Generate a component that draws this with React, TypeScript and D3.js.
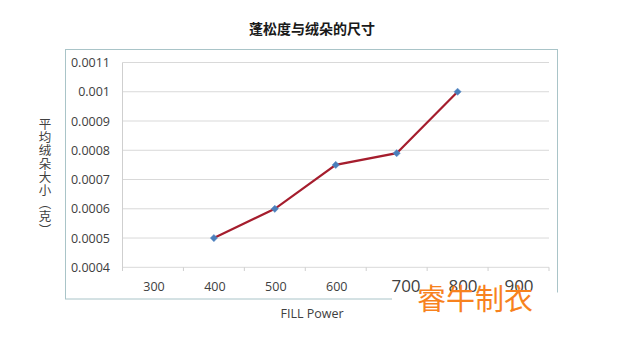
import React from "react";
import * as d3 from "d3";

const categories = ["300", "400", "500", "600", "700", "800", "900"];
const seriesX = ["400", "500", "600", "700", "800"];
const seriesValues = [0.0005, 0.0006, 0.00075, 0.00079, 0.001];
const yTicks = [0.0004, 0.0005, 0.0006, 0.0007, 0.0008, 0.0009, 0.001, 0.0011];
const yTickLabels = ["0.0004", "0.0005", "0.0006", "0.0007", "0.0008", "0.0009", "0.001", "0.0011"];
const title = "蓬松度与绒朵的尺寸";
const yTitle = "平均绒朵大小（克）";
const xTitle = "FILL Power";
const watermark = "睿牛制衣";

const W = 637;
const H = 337;
const NUM_FONT = "'Open Sans', 'Noto Sans', sans-serif";
const CJK_FONT = "'Noto Sans CJK SC', sans-serif";

export default function App() {
  const x = d3.scaleBand<string>().domain(categories).range([122.5, 549]).padding(0);
  const y = d3.scaleLinear().domain([0.0004, 0.0011]).range([267.3, 62.5]);
  const line = d3
    .line<number>()
    .x((_, i) => (x(seriesX[i]) as number) + x.bandwidth() / 2)
    .y((d) => y(d));
  const marker = d3.symbol().type(d3.symbolSquare).size(26)();
  const boundaries = categories.map((c) => x(c) as number).concat([x.range()[1]]);

  return (
    <svg width={W} height={H} style={{ position: "absolute", left: 0, top: 0, background: "#fff" }}>
      <rect x={0} y={0} width={W} height={H} fill="#fff" />
      <rect x={65.5} y={49.5} width={492} height={249.5} fill="#fff" stroke="#a9c4c8" strokeWidth={1} />
      <text x={312} y={34} textAnchor="middle" fontFamily={CJK_FONT} fontWeight="bold" fontSize={14} fill="#1a1a1a">
        {title}
      </text>
      {yTicks.map((t, i) => (
        <line key={"g" + i} x1={122.5} x2={549} y1={y(t)} y2={y(t)} stroke="#d9d9d9" strokeWidth={1} />
      ))}
      <line x1={122.5} x2={122.5} y1={62.5} y2={271} stroke="#cfcfcf" strokeWidth={1} />
      {boundaries.map((b, i) => (
        <line key={"t" + i} x1={b} x2={b} y1={267.3} y2={271} stroke="#cfcfcf" strokeWidth={1} />
      ))}
      {yTicks.map((t, i) => (
        <text key={"yl" + i} x={110} y={y(t) + 4.5} textAnchor="end" fontFamily={NUM_FONT} fontSize={12.5} fill="#404040">
          {yTickLabels[i]}
        </text>
      ))}
      {categories.map((c, i) =>
        i < 4 ? (
          <text key={"xl" + c} x={(x(c) as number) + x.bandwidth() / 2 + 1} y={291} textAnchor="middle" fontFamily={NUM_FONT} fontSize={12.5} fill="#404040">
            {c}
          </text>
        ) : null
      )}
      <text
        x={45}
        y={118}
        fontFamily={CJK_FONT}
        fontSize={12.5}
        fill="#404040"
        style={{ writingMode: "vertical-rl", letterSpacing: "0.7px" } as React.CSSProperties}
      >
        {yTitle}
      </text>
      <text x={312} y={318} textAnchor="middle" fontFamily={NUM_FONT} fontSize={12.5} fill="#404040">
        {xTitle}
      </text>
      <path d={line(seriesValues) || ""} fill="none" stroke="#a51d2d" strokeWidth={2.2} />
      {seriesValues.map((v, i) => (
        <path
          key={"m" + i}
          d={marker || ""}
          transform={`translate(${(x(seriesX[i]) as number) + x.bandwidth() / 2},${y(v)}) rotate(45)`}
          fill="#4a7ebb"
          stroke="#5b8cc8"
          strokeWidth={0.5}
        />
      ))}
      <rect x={392} y={292.5} width={170} height={30} fill="#fff" />
      {categories.map((c, i) =>
        i >= 4 ? (
          <text
            key={"xb" + c}
            x={[406, 463, 519][i - 4]}
            y={292}
            textAnchor="middle"
            fontFamily={NUM_FONT}
            fontSize={17}
            fill="#404040"
          >
            {c}
          </text>
        ) : null
      )}
      <text x={417} y={310} fontFamily={CJK_FONT} fontSize={29} fill="#f7821e">
        {watermark}
      </text>
    </svg>
  );
}
